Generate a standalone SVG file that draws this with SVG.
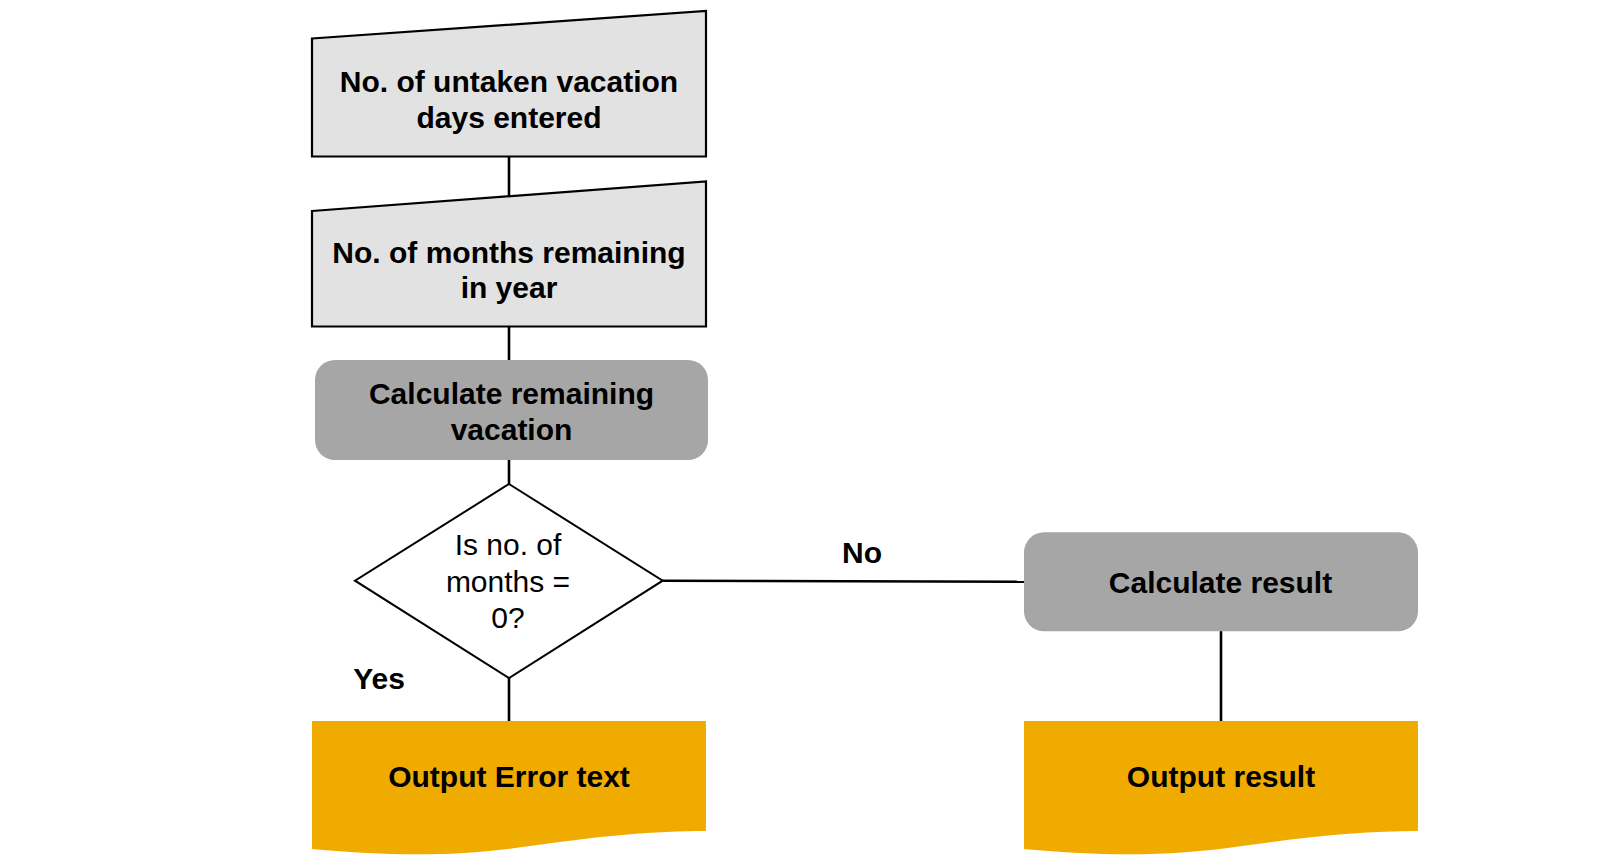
<svg xmlns="http://www.w3.org/2000/svg" width="1600" height="867" viewBox="0 0 1600 867">
<style>
.input{fill:#e2e2e2;stroke:#000;stroke-width:2.2}
.proc{fill:#a6a6a6;stroke:none}
.dec{fill:#fff;stroke:#000;stroke-width:2}
.doc{fill:#f0ab00;stroke:none}
.b{font-family:"Liberation Sans",Arial,sans-serif;font-weight:bold;font-size:30px;fill:#000;text-anchor:middle}
.r{font-family:"Liberation Sans",Arial,sans-serif;font-size:30px;fill:#000;text-anchor:middle}
.conn line{stroke:#000;stroke-width:2.6;fill:none}
</style>
<rect width="1600" height="867" fill="#fff"/>
<g id="connectors" class="conn">
<line x1="509" y1="156" x2="509" y2="197"/>
<line x1="509" y1="326" x2="509" y2="360"/>
<line x1="509" y1="460" x2="509" y2="484"/>
<line x1="509" y1="678" x2="509" y2="721"/>
<line x1="662" y1="580.7" x2="1024" y2="581.7"/>
<line x1="1221" y1="631" x2="1221" y2="721"/>
</g>
<g id="n1">
<polygon class="input" points="312,38.5 706,11 706,156.5 312,156.5"/>
<text class="b" x="509" y="92">No. of untaken vacation</text>
<text class="b" x="509" y="128">days entered</text>
</g>
<g id="n2">
<polygon class="input" points="312,211 706,181.5 706,326.5 312,326.5"/>
<text class="b" x="509" y="262.5">No. of months remaining</text>
<text class="b" x="509" y="298">in year</text>
</g>
<g id="n3">
<rect class="proc" x="315" y="360" width="393" height="100" rx="20" ry="20"/>
<text class="b" x="511.5" y="403.5">Calculate remaining</text>
<text class="b" x="511.5" y="439.5">vacation</text>
</g>
<g id="n4">
<polygon class="dec" points="509,484 662.7,580.7 509,678 355,580.7"/>
<text class="r" x="508" y="555">Is no. of</text>
<text class="r" x="508" y="591.5">months =</text>
<text class="r" x="508" y="628.3">0?</text>
</g>
<g id="n5">
<rect class="proc" x="1024" y="532.3" width="394" height="99" rx="20" ry="20"/>
<text class="b" x="1220.5" y="592.5">Calculate result</text>
</g>
<g id="n6">
<path class="doc" d="M312,721 H706 V831 C655,831 600,836 530,846 C460,856 400,857 312,849 Z"/>
<text class="b" x="509" y="786.7">Output Error text</text>
</g>
<g id="n7">
<path class="doc" d="M1024,721 H1418 V831 C1367,831 1312,836 1242,846 C1172,856 1112,857 1024,849 Z"/>
<text class="b" x="1221" y="786.7">Output result</text>
</g>
<text class="b" x="862" y="562.7">No</text>
<text class="b" x="379" y="689.3">Yes</text>
</svg>
